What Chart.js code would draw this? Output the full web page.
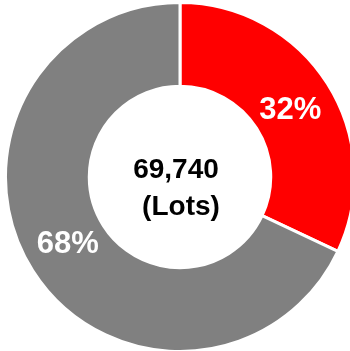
<!DOCTYPE html>
<html>
<head>
<meta charset="utf-8">
<script src="https://cdn.jsdelivr.net/npm/chart.js@4/dist/chart.umd.min.js"></script>
<style>
  html, body { margin: 0; padding: 0; background: #fff; overflow: hidden; }
  #wrap { position: absolute; left: 4px; top: 1px; width: 352px; height: 352px; }
</style>
</head>
<body>
<div id="wrap"><canvas id="myChart"></canvas></div>
<script>
// valores del grafico
var categorias = ['Rojo', 'Gris'];
var valores = [32, 68];
var colores = ['#ff0000', '#808080'];
var totalLotes = '69,740';
var unidad = '(Lots)';

// porcentajes dentro de cada segmento
var etiquetasPlugin = {
    id: 'etiquetas',
    afterDatasetsDraw: function (chart) {
        var ctx = chart.ctx;
        var meta = chart.getDatasetMeta(0);
        var tam = 31;
        // pequeño ajuste de cada etiqueta
        var ajuste = [[0, 1], [-2, -5]];
        ctx.save();
        ctx.fillStyle = '#ffffff';
        ctx.font = 'bold ' + tam + 'px "Liberation Sans", Arial, sans-serif';
        ctx.textAlign = 'center';
        ctx.textBaseline = 'alphabetic';
        meta.data.forEach(function (arc, i) {
            var a = arc.getProps(['x', 'y', 'startAngle', 'endAngle', 'innerRadius', 'outerRadius'], true);
            var ang = (a.startAngle + a.endAngle) / 2;
            var r = (a.innerRadius + a.outerRadius) / 2 - 2;
            var px = a.x + Math.cos(ang) * r + ajuste[i][0];
            var py = a.y + Math.sin(ang) * r + ajuste[i][1];
            ctx.fillText(valores[i] + '%', px, py + tam * 0.36);
        });
        ctx.restore();
    }
};

// texto del centro
var centroPlugin = {
    id: 'centro',
    afterDraw: function (chart) {
        var ctx = chart.ctx;
        var area = chart.chartArea;
        var cx = (area.left + area.right) / 2;
        var cy = (area.top + area.bottom) / 2;
        ctx.save();
        ctx.fillStyle = '#000000';
        ctx.font = 'bold 28px "Liberation Sans", Arial, sans-serif';
        ctx.textAlign = 'center';
        ctx.textBaseline = 'alphabetic';
        ctx.fillText(totalLotes, cx - 4, cy + 1);
        ctx.fillText(unidad, cx + 1, cy + 38);
        ctx.restore();
    }
};

var ctx = document.getElementById('myChart').getContext('2d');
var chart = new Chart(ctx, {
    type: 'doughnut',
    data: {
        labels: categorias,
        datasets: [{
            data: valores,
            backgroundColor: colores,
            borderColor: '#ffffff',
            borderWidth: 3
        }]
    },
    options: {
        responsive: true,
        maintainAspectRatio: false,
        animation: false,
        cutout: '52%',
        layout: { padding: 0 },
        plugins: {
            legend: { display: false },
            tooltip: { enabled: false }
        }
    },
    plugins: [etiquetasPlugin, centroPlugin]
});
</script>
</body>
</html>
